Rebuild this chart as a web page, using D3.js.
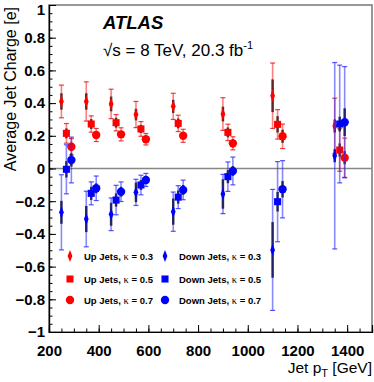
<!DOCTYPE html>
<html>
<head>
<meta charset="utf-8">
<script src="https://cdn.jsdelivr.net/npm/d3@7"></script>
<style>
  body { margin: 0; background: #fff; }
  svg { display: block; font-family: "Liberation Sans", Arial, sans-serif; }
</style>
</head>
<body>
<svg id="chart" width="374" height="382"></svg>
<script>
// jet pT bin centres [GeV] and the small shift used for each kappa
var ptBins = [250, 350, 450, 550, 700, 900, 1100, 1350];
var kappas = [0.3, 0.5, 0.7];
var kappaShift = [0, 20, 40];

// average jet charge, up jets
var upK03 = [0.41, 0.41, 0.395, 0.33, 0.38, 0.333, 0.445, 0.26];
var upK05 = [0.215, 0.272, 0.28, 0.242, 0.276, 0.221, 0.27, 0.113];
var upK07 = [0.133, 0.205, 0.209, 0.179, 0.2, 0.154, 0.197, 0.066];
// down jets
var downK03 = [-0.268, -0.309, -0.28, -0.146, -0.264, -0.156, -0.498, 0.078];
var downK05 = [-0.005, -0.152, -0.193, -0.101, -0.175, -0.05, -0.203, 0.272];
var downK07 = [0.052, -0.121, -0.142, -0.07, -0.131, -0.015, -0.127, 0.283];

// statistical (inner) errors
var upK03Stat = [0.05, 0.05, 0.045, 0.035, 0.04, 0.045, 0.1, 0.04];
var upK05Stat = [0.03, 0.03, 0.03, 0.025, 0.03, 0.03, 0.05, 0.04];
var upK07Stat = [0.025, 0.02, 0.02, 0.02, 0.02, 0.025, 0.04, 0.04];
var downK03Stat = [0.07, 0.08, 0.07, 0.06, 0.08, 0.09, 0.17, 0.04];
var downK05Stat = [0.05, 0.04, 0.04, 0.03, 0.04, 0.04, 0.06, 0.045];
var downK07Stat = [0.04, 0.03, 0.03, 0.025, 0.03, 0.03, 0.05, 0.085];

// total errors
var upK03Tot = [0.1, 0.12, 0.09, 0.08, 0.08, 0.1, 0.2, 0.17];
var upK05Tot = [0.06, 0.05, 0.05, 0.045, 0.05, 0.05, 0.09, 0.13];
var upK07Tot = [0.05, 0.04, 0.04, 0.035, 0.04, 0.04, 0.075, 0.12];
var downK03Tot = [0.23, 0.17, 0.1, 0.08, 0.12, 0.12, 0.37, 0.57];
var downK05Tot = [0.15, 0.07, 0.09, 0.06, 0.07, 0.09, 0.245, 0.36];
var downK07Tot = [0.14, 0.075, 0.06, 0.04, 0.06, 0.085, 0.175, 0.34];

var xTicks = [200, 400, 600, 800, 1000, 1200, 1400];
var yTicks = [-1, -0.8, -0.6, -0.4, -0.2, 0, 0.2, 0.4, 0.6, 0.8, 1];

var series = [
  {name: "Up Jets", k: 0, mean: upK03, stat: upK03Stat, tot: upK03Tot, up: true},
  {name: "Up Jets", k: 1, mean: upK05, stat: upK05Stat, tot: upK05Tot, up: true},
  {name: "Up Jets", k: 2, mean: upK07, stat: upK07Stat, tot: upK07Tot, up: true},
  {name: "Down Jets", k: 0, mean: downK03, stat: downK03Stat, tot: downK03Tot, up: false},
  {name: "Down Jets", k: 1, mean: downK05, stat: downK05Stat, tot: downK05Tot, up: false},
  {name: "Down Jets", k: 2, mean: downK07, stat: downK07Stat, tot: downK07Tot, up: false}
];

var svg = d3.select("#chart");
var padL = 49, padR = 372, padT = 5, padB = 332;

var x = d3.scaleLinear().domain([200, 1500]).range([padL, padR]);
var y = d3.scaleLinear().domain([-1, 1]).range([padB, padT]);

// frame
svg.append("rect")
  .attr("x", padL).attr("y", padT)
  .attr("width", padR - padL).attr("height", padB - padT)
  .attr("fill", "none").attr("stroke", "#777").attr("stroke-width", 1.5);

// zero line
svg.append("line")
  .attr("x1", padL).attr("x2", padR)
  .attr("y1", y(0)).attr("y2", y(0))
  .attr("stroke", "#888").attr("stroke-width", 1.5);

// axes, ROOT style: ticks inside
var xAxis = d3.axisBottom(x).tickValues(xTicks).tickSize(-7).tickPadding(13.5).tickFormat(d3.format("d"));
var xMinor = d3.axisBottom(x).tickValues(d3.range(200, 1501, 50)).tickSize(-3.5).tickFormat("");
var yAxis = d3.axisLeft(y).tickValues(yTicks).tickSize(-7).tickPadding(4)
  .tickFormat(function(d) { return d === 0 ? "0" : (Math.abs(d) === 1 ? d3.format("d")(d) : d3.format(".1f")(d)); });
var yMinor = d3.axisLeft(y).tickValues(d3.range(-1, 1.001, 0.05)).tickSize(-3.5).tickFormat("");

function styleAxis(g) {
  g.select(".domain").attr("stroke", "#000").attr("stroke-width", 1.2);
  g.selectAll(".tick line").attr("stroke", "#000");
  g.selectAll("text").attr("font-family", "Liberation Sans, Arial, sans-serif")
    .attr("font-weight", "bold").attr("font-size", 15).attr("fill", "#000");
}

svg.append("g").attr("transform", "translate(0," + padB + ")").call(xMinor).call(styleAxis);
svg.append("g").attr("transform", "translate(0," + padB + ")").call(xAxis).call(styleAxis);
svg.append("g").attr("transform", "translate(" + padL + ",0)").call(yMinor).call(styleAxis);
var yg = svg.append("g").attr("transform", "translate(" + padL + ",0)").call(yAxis).call(styleAxis);
// keep the top label inside the page
yg.selectAll(".tick text").filter(function(d) { return d === 1; }).attr("dy", "0.62em");

// axis titles
svg.append("text")
  .attr("transform", "translate(15.5,7) rotate(-90)")
  .attr("text-anchor", "end")
  .attr("font-size", 16)
  .text("Average Jet Charge [e]");

var xt = svg.append("text")
  .attr("x", padR).attr("y", 373)
  .attr("text-anchor", "end")
  .attr("font-size", 15.5);
xt.append("tspan").text("Jet p");
xt.append("tspan").attr("dy", 4).attr("font-size", 11).text("T");
xt.append("tspan").attr("dy", -4).text(" [GeV]");

// labels
svg.append("text")
  .attr("x", 103).attr("y", 29)
  .attr("font-size", 18.5).attr("font-weight", "bold").attr("font-style", "italic")
  .text("ATLAS");

var en = svg.append("text").attr("x", 103).attr("y", 56).attr("font-size", 17);
en.append("tspan").text("\u221As = 8 TeV, 20.3 fb");
en.append("tspan").attr("dy", -7).attr("font-size", 11).text("-1");

// markers
var red = "#ff0000", blue = "#0000ff";
var markerSize = [30, 50, 55];
var markerType = [d3.symbolDiamond, d3.symbolSquare, d3.symbolCircle];

function drawMarker(g, k, color) {
  var sym = d3.symbol().type(markerType[k]).size(markerSize[k]);
  var p = g.append("path").attr("d", sym()).attr("fill", color);
  if (k === 0) p.attr("transform", "scale(0.8,1.2)");
  return p;
}

var plot = svg.append("g");

series.forEach(function(s) {
  var light = s.up ? "rgba(255,0,0,0.5)" : "rgba(40,40,255,0.55)";
  var capCol = s.up ? "rgba(230,0,0,0.75)" : "rgba(40,40,255,0.8)";
  var dark = s.up ? "#4a1414" : "#10104a";
  var color = s.up ? red : blue;
  var pts = ptBins.map(function(pt, i) {
    return {x: pt + kappaShift[s.k], v: s.mean[i], st: s.stat[i], tt: s.tot[i]};
  });
  var g = plot.append("g");
  pts.forEach(function(d) {
    var cx = x(d.x);
    g.append("line").attr("x1", cx).attr("x2", cx)
      .attr("y1", y(d.v + d.tt)).attr("y2", y(d.v - d.tt))
      .attr("stroke", light).attr("stroke-width", 1.6);
    [d.v + d.tt, d.v - d.tt].forEach(function(e) {
      g.append("line").attr("x1", cx - 2.5).attr("x2", cx + 2.5)
        .attr("y1", y(e)).attr("y2", y(e))
        .attr("stroke", capCol).attr("stroke-width", 1.2);
    });
    g.append("line").attr("x1", cx).attr("x2", cx)
      .attr("y1", y(d.v + d.st)).attr("y2", y(d.v - d.st))
      .attr("stroke", dark).attr("stroke-width", 2.5).attr("stroke-opacity", 0.85);
  });
  pts.forEach(function(d) {
    var m = g.append("g").attr("transform", "translate(" + x(d.x) + "," + y(d.v) + ")");
    drawMarker(m, s.k, color);
  });
});

// legend
var legRows = [256, 279, 300];
series.forEach(function(s) {
  var mx = s.up ? 70 : 165;
  var tx = s.up ? 84 : 179;
  var ly = legRows[s.k];
  var m = svg.append("g").attr("transform", "translate(" + mx + "," + ly + ")");
  drawMarker(m, s.k, s.up ? red : blue);
  var t = svg.append("text").attr("x", tx).attr("y", ly + 3.5)
    .attr("font-size", 9.5).attr("font-weight", "bold");
  t.append("tspan").text(s.name + ",  ");
  t.append("tspan").attr("font-weight", "normal").attr("font-family", "Liberation Serif, serif").attr("font-size", 10.5).text("\u03BA");
  t.append("tspan").text(" = " + kappas[s.k]);
});
</script>
</body>
</html>
